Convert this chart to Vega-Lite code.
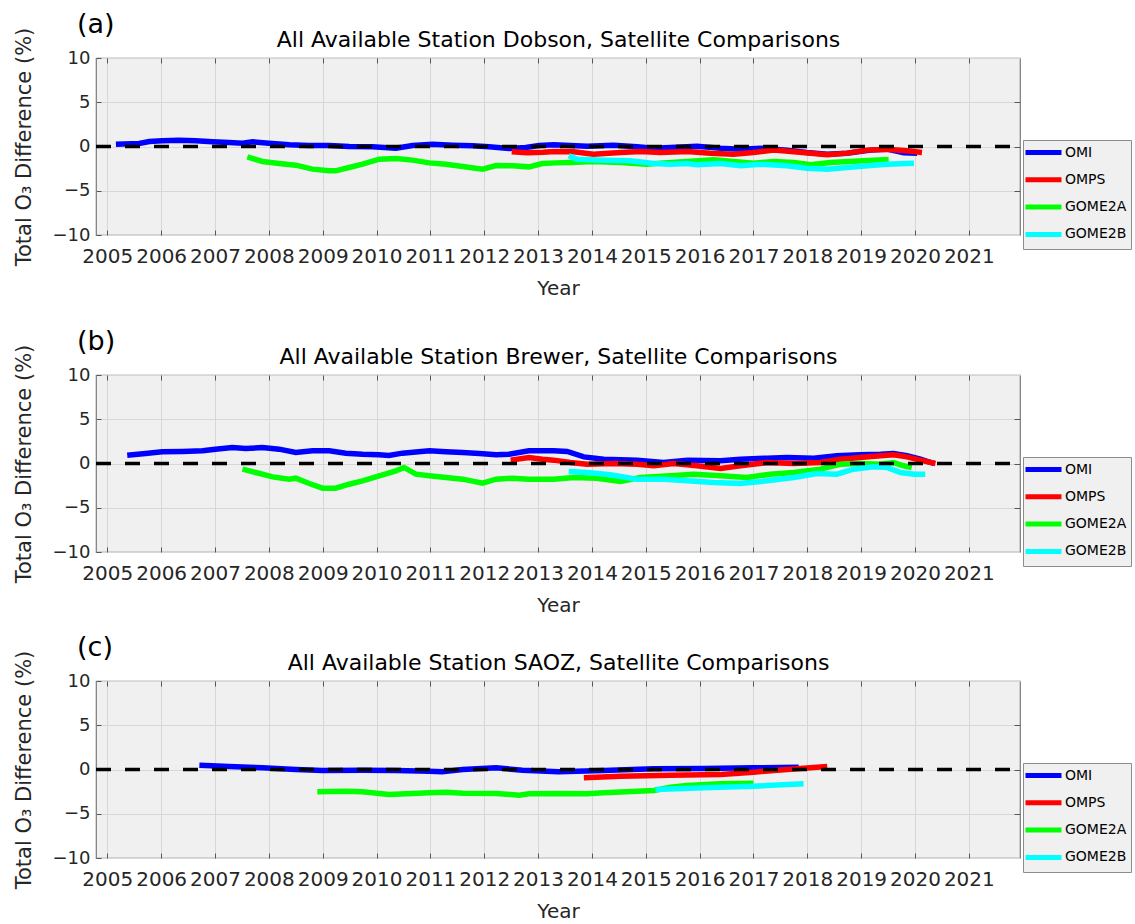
{
  "$schema": "https://vega.github.io/schema/vega-lite/v6.json",
  "background": "white",
  "padding": {"left": 12, "top": 10, "right": 0, "bottom": 0},
  "config": {
    "font": "DejaVu Sans",
    "view": {"stroke": "#7a7a7a", "strokeWidth": 1.2, "fill": "#f0f0f0"},
    "axis": {"domain": false, "labelFont": "DejaVu Sans", "titleFont": "DejaVu Sans", "titleFontWeight": "normal", "labelColor": "#262626", "titleColor": "#262626", "tickColor": "#555555", "gridColor": "#d7d7d7", "gridOpacity": 1, "tickWidth": 1},
    "title": {"font": "DejaVu Sans", "fontWeight": "normal", "color": "#000000"},
    "legend": {"orient": "none", "legendX": 927, "legendY": 82, "title": null, "symbolType": "M-3,0H3", "symbolSize": 144, "symbolStrokeWidth": 5, "symbolOffset": 8, "labelOffset": 13, "labelFontSize": 14, "labelFont": "DejaVu Sans", "labelColor": "#000000", "padding": 4, "rowPadding": 6.3, "fillColor": "#f0f0f0", "strokeColor": "#8c8c8c", "cornerRadius": 0}
  },
  "datasets": {
    "dobson": [
      {"sat": "OMI", "year": 2005.16, "diff": 0.26}, {"sat": "OMI", "year": 2005.59, "diff": 0.34}, {"sat": "OMI", "year": 2005.78, "diff": 0.56}, {"sat": "OMI", "year": 2006.02, "diff": 0.64}, {"sat": "OMI", "year": 2006.33, "diff": 0.72}, {"sat": "OMI", "year": 2006.64, "diff": 0.64}, {"sat": "OMI", "year": 2006.95, "diff": 0.53}, {"sat": "OMI", "year": 2007.26, "diff": 0.45}, {"sat": "OMI", "year": 2007.51, "diff": 0.38}, {"sat": "OMI", "year": 2007.70, "diff": 0.53}, {"sat": "OMI", "year": 2008.00, "diff": 0.38}, {"sat": "OMI", "year": 2008.38, "diff": 0.19}, {"sat": "OMI", "year": 2008.75, "diff": 0.11}, {"sat": "OMI", "year": 2009.12, "diff": 0.11}, {"sat": "OMI", "year": 2009.49, "diff": 0.0}, {"sat": "OMI", "year": 2009.92, "diff": -0.04}, {"sat": "OMI", "year": 2010.36, "diff": -0.19}, {"sat": "OMI", "year": 2010.67, "diff": 0.11}, {"sat": "OMI", "year": 2011.04, "diff": 0.26}, {"sat": "OMI", "year": 2011.41, "diff": 0.15}, {"sat": "OMI", "year": 2011.78, "diff": 0.08}, {"sat": "OMI", "year": 2012.09, "diff": -0.04}, {"sat": "OMI", "year": 2012.46, "diff": -0.23}, {"sat": "OMI", "year": 2012.77, "diff": -0.11}, {"sat": "OMI", "year": 2013.02, "diff": 0.11}, {"sat": "OMI", "year": 2013.29, "diff": 0.19}, {"sat": "OMI", "year": 2013.91, "diff": 0.04}, {"sat": "OMI", "year": 2014.40, "diff": 0.15}, {"sat": "OMI", "year": 2014.84, "diff": -0.04}, {"sat": "OMI", "year": 2015.15, "diff": -0.19}, {"sat": "OMI", "year": 2015.46, "diff": -0.11}, {"sat": "OMI", "year": 2015.95, "diff": 0.04}, {"sat": "OMI", "year": 2016.39, "diff": -0.19}, {"sat": "OMI", "year": 2016.76, "diff": -0.30}, {"sat": "OMI", "year": 2017.13, "diff": -0.19}, {"sat": "OMI", "year": 2017.62, "diff": -0.41}, {"sat": "OMI", "year": 2017.99, "diff": -0.68}, {"sat": "OMI", "year": 2018.37, "diff": -0.87}, {"sat": "OMI", "year": 2018.74, "diff": -0.75}, {"sat": "OMI", "year": 2019.17, "diff": -0.41}, {"sat": "OMI", "year": 2019.48, "diff": -0.30}, {"sat": "OMI", "year": 2019.79, "diff": -0.72}, {"sat": "OMI", "year": 2020.04, "diff": -0.75},
      {"sat": "OMPS", "year": 2012.51, "diff": -0.6}, {"sat": "OMPS", "year": 2012.8, "diff": -0.7}, {"sat": "OMPS", "year": 2013.1, "diff": -0.65}, {"sat": "OMPS", "year": 2013.29, "diff": -0.56}, {"sat": "OMPS", "year": 2013.66, "diff": -0.6}, {"sat": "OMPS", "year": 2014.03, "diff": -0.87}, {"sat": "OMPS", "year": 2014.53, "diff": -0.68}, {"sat": "OMPS", "year": 2014.90, "diff": -0.56}, {"sat": "OMPS", "year": 2015.27, "diff": -0.68}, {"sat": "OMPS", "year": 2015.77, "diff": -0.56}, {"sat": "OMPS", "year": 2016.20, "diff": -0.75}, {"sat": "OMPS", "year": 2016.63, "diff": -0.87}, {"sat": "OMPS", "year": 2017.00, "diff": -0.68}, {"sat": "OMPS", "year": 2017.38, "diff": -0.41}, {"sat": "OMPS", "year": 2017.75, "diff": -0.6}, {"sat": "OMPS", "year": 2018.12, "diff": -0.79}, {"sat": "OMPS", "year": 2018.37, "diff": -0.94}, {"sat": "OMPS", "year": 2018.74, "diff": -0.75}, {"sat": "OMPS", "year": 2019.11, "diff": -0.41}, {"sat": "OMPS", "year": 2019.48, "diff": -0.30}, {"sat": "OMPS", "year": 2019.85, "diff": -0.49}, {"sat": "OMPS", "year": 2020.13, "diff": -0.68},
      {"sat": "GOME2A", "year": 2007.60, "diff": -1.17}, {"sat": "GOME2A", "year": 2007.88, "diff": -1.69}, {"sat": "GOME2A", "year": 2008.19, "diff": -1.92}, {"sat": "GOME2A", "year": 2008.50, "diff": -2.11}, {"sat": "GOME2A", "year": 2008.81, "diff": -2.56}, {"sat": "GOME2A", "year": 2009.12, "diff": -2.75}, {"sat": "GOME2A", "year": 2009.24, "diff": -2.75}, {"sat": "GOME2A", "year": 2009.49, "diff": -2.37}, {"sat": "GOME2A", "year": 2009.74, "diff": -2.0}, {"sat": "GOME2A", "year": 2010.05, "diff": -1.43}, {"sat": "GOME2A", "year": 2010.36, "diff": -1.36}, {"sat": "GOME2A", "year": 2010.67, "diff": -1.54}, {"sat": "GOME2A", "year": 2010.98, "diff": -1.85}, {"sat": "GOME2A", "year": 2011.29, "diff": -2.0}, {"sat": "GOME2A", "year": 2011.60, "diff": -2.26}, {"sat": "GOME2A", "year": 2011.97, "diff": -2.56}, {"sat": "GOME2A", "year": 2012.22, "diff": -2.15}, {"sat": "GOME2A", "year": 2012.53, "diff": -2.18}, {"sat": "GOME2A", "year": 2012.83, "diff": -2.30}, {"sat": "GOME2A", "year": 2013.08, "diff": -1.92}, {"sat": "GOME2A", "year": 2013.33, "diff": -1.85}, {"sat": "GOME2A", "year": 2013.60, "diff": -1.81}, {"sat": "GOME2A", "year": 2014.03, "diff": -1.69}, {"sat": "GOME2A", "year": 2014.53, "diff": -1.81}, {"sat": "GOME2A", "year": 2015.02, "diff": -2.0}, {"sat": "GOME2A", "year": 2015.33, "diff": -1.85}, {"sat": "GOME2A", "year": 2015.77, "diff": -1.69}, {"sat": "GOME2A", "year": 2016.26, "diff": -1.51}, {"sat": "GOME2A", "year": 2016.63, "diff": -1.69}, {"sat": "GOME2A", "year": 2017.00, "diff": -1.88}, {"sat": "GOME2A", "year": 2017.38, "diff": -1.69}, {"sat": "GOME2A", "year": 2017.75, "diff": -1.81}, {"sat": "GOME2A", "year": 2018.06, "diff": -2.07}, {"sat": "GOME2A", "year": 2018.43, "diff": -1.81}, {"sat": "GOME2A", "year": 2018.86, "diff": -1.66}, {"sat": "GOME2A", "year": 2019.23, "diff": -1.54}, {"sat": "GOME2A", "year": 2019.51, "diff": -1.47},
      {"sat": "GOME2B", "year": 2013.57, "diff": -1.05}, {"sat": "GOME2B", "year": 2013.72, "diff": -1.43}, {"sat": "GOME2B", "year": 2014.22, "diff": -1.54}, {"sat": "GOME2B", "year": 2014.71, "diff": -1.62}, {"sat": "GOME2B", "year": 2015.15, "diff": -1.92}, {"sat": "GOME2B", "year": 2015.46, "diff": -2.0}, {"sat": "GOME2B", "year": 2015.77, "diff": -1.92}, {"sat": "GOME2B", "year": 2015.95, "diff": -2.07}, {"sat": "GOME2B", "year": 2016.39, "diff": -1.92}, {"sat": "GOME2B", "year": 2016.76, "diff": -2.18}, {"sat": "GOME2B", "year": 2017.13, "diff": -2.0}, {"sat": "GOME2B", "year": 2017.62, "diff": -2.18}, {"sat": "GOME2B", "year": 2017.99, "diff": -2.45}, {"sat": "GOME2B", "year": 2018.37, "diff": -2.56}, {"sat": "GOME2B", "year": 2018.74, "diff": -2.37}, {"sat": "GOME2B", "year": 2019.11, "diff": -2.18}, {"sat": "GOME2B", "year": 2019.48, "diff": -2.0}, {"sat": "GOME2B", "year": 2019.98, "diff": -1.88}
    ],
    "brewer": [
      {"sat": "OMI", "year": 2005.37, "diff": 0.94}, {"sat": "OMI", "year": 2005.71, "diff": 1.13}, {"sat": "OMI", "year": 2006.02, "diff": 1.32}, {"sat": "OMI", "year": 2006.40, "diff": 1.36}, {"sat": "OMI", "year": 2006.77, "diff": 1.43}, {"sat": "OMI", "year": 2007.01, "diff": 1.62}, {"sat": "OMI", "year": 2007.32, "diff": 1.81}, {"sat": "OMI", "year": 2007.57, "diff": 1.69}, {"sat": "OMI", "year": 2007.88, "diff": 1.81}, {"sat": "OMI", "year": 2008.19, "diff": 1.62}, {"sat": "OMI", "year": 2008.50, "diff": 1.24}, {"sat": "OMI", "year": 2008.81, "diff": 1.43}, {"sat": "OMI", "year": 2009.12, "diff": 1.43}, {"sat": "OMI", "year": 2009.43, "diff": 1.17}, {"sat": "OMI", "year": 2009.74, "diff": 1.05}, {"sat": "OMI", "year": 2010.05, "diff": 0.98}, {"sat": "OMI", "year": 2010.23, "diff": 0.90}, {"sat": "OMI", "year": 2010.48, "diff": 1.17}, {"sat": "OMI", "year": 2010.98, "diff": 1.43}, {"sat": "OMI", "year": 2011.29, "diff": 1.32}, {"sat": "OMI", "year": 2011.60, "diff": 1.24}, {"sat": "OMI", "year": 2011.91, "diff": 1.13}, {"sat": "OMI", "year": 2012.22, "diff": 0.98}, {"sat": "OMI", "year": 2012.46, "diff": 1.05}, {"sat": "OMI", "year": 2012.83, "diff": 1.43}, {"sat": "OMI", "year": 2013.29, "diff": 1.43}, {"sat": "OMI", "year": 2013.54, "diff": 1.36}, {"sat": "OMI", "year": 2013.85, "diff": 0.75}, {"sat": "OMI", "year": 2014.22, "diff": 0.49}, {"sat": "OMI", "year": 2014.84, "diff": 0.38}, {"sat": "OMI", "year": 2015.33, "diff": 0.11}, {"sat": "OMI", "year": 2015.77, "diff": 0.38}, {"sat": "OMI", "year": 2016.39, "diff": 0.30}, {"sat": "OMI", "year": 2016.76, "diff": 0.49}, {"sat": "OMI", "year": 2017.25, "diff": 0.60}, {"sat": "OMI", "year": 2017.62, "diff": 0.68}, {"sat": "OMI", "year": 2018.12, "diff": 0.60}, {"sat": "OMI", "year": 2018.55, "diff": 0.87}, {"sat": "OMI", "year": 2018.98, "diff": 0.98}, {"sat": "OMI", "year": 2019.36, "diff": 1.05}, {"sat": "OMI", "year": 2019.60, "diff": 1.13}, {"sat": "OMI", "year": 2019.85, "diff": 0.87}, {"sat": "OMI", "year": 2020.10, "diff": 0.49}, {"sat": "OMI", "year": 2020.35, "diff": 0.0},
      {"sat": "OMPS", "year": 2012.49, "diff": 0.38}, {"sat": "OMPS", "year": 2012.83, "diff": 0.68}, {"sat": "OMPS", "year": 2013.08, "diff": 0.49}, {"sat": "OMPS", "year": 2013.29, "diff": 0.38}, {"sat": "OMPS", "year": 2013.60, "diff": 0.11}, {"sat": "OMPS", "year": 2013.91, "diff": -0.08}, {"sat": "OMPS", "year": 2014.40, "diff": 0.0}, {"sat": "OMPS", "year": 2014.84, "diff": -0.08}, {"sat": "OMPS", "year": 2015.15, "diff": -0.26}, {"sat": "OMPS", "year": 2015.52, "diff": 0.0}, {"sat": "OMPS", "year": 2015.95, "diff": -0.26}, {"sat": "OMPS", "year": 2016.39, "diff": -0.56}, {"sat": "OMPS", "year": 2016.76, "diff": -0.26}, {"sat": "OMPS", "year": 2017.25, "diff": 0.11}, {"sat": "OMPS", "year": 2017.75, "diff": 0.0}, {"sat": "OMPS", "year": 2018.24, "diff": 0.11}, {"sat": "OMPS", "year": 2018.61, "diff": 0.49}, {"sat": "OMPS", "year": 2018.98, "diff": 0.68}, {"sat": "OMPS", "year": 2019.36, "diff": 0.87}, {"sat": "OMPS", "year": 2019.60, "diff": 0.98}, {"sat": "OMPS", "year": 2019.85, "diff": 0.75}, {"sat": "OMPS", "year": 2020.10, "diff": 0.38}, {"sat": "OMPS", "year": 2020.38, "diff": 0.0},
      {"sat": "GOME2A", "year": 2007.51, "diff": -0.64}, {"sat": "GOME2A", "year": 2007.76, "diff": -1.02}, {"sat": "GOME2A", "year": 2008.07, "diff": -1.51}, {"sat": "GOME2A", "year": 2008.38, "diff": -1.77}, {"sat": "GOME2A", "year": 2008.50, "diff": -1.66}, {"sat": "GOME2A", "year": 2008.75, "diff": -2.26}, {"sat": "GOME2A", "year": 2009.0, "diff": -2.79}, {"sat": "GOME2A", "year": 2009.24, "diff": -2.79}, {"sat": "GOME2A", "year": 2009.49, "diff": -2.34}, {"sat": "GOME2A", "year": 2009.74, "diff": -1.96}, {"sat": "GOME2A", "year": 2010.05, "diff": -1.39}, {"sat": "GOME2A", "year": 2010.36, "diff": -0.83}, {"sat": "GOME2A", "year": 2010.51, "diff": -0.45}, {"sat": "GOME2A", "year": 2010.73, "diff": -1.21}, {"sat": "GOME2A", "year": 2010.98, "diff": -1.39}, {"sat": "GOME2A", "year": 2011.29, "diff": -1.58}, {"sat": "GOME2A", "year": 2011.60, "diff": -1.77}, {"sat": "GOME2A", "year": 2011.97, "diff": -2.22}, {"sat": "GOME2A", "year": 2012.22, "diff": -1.77}, {"sat": "GOME2A", "year": 2012.53, "diff": -1.66}, {"sat": "GOME2A", "year": 2012.83, "diff": -1.77}, {"sat": "GOME2A", "year": 2013.29, "diff": -1.77}, {"sat": "GOME2A", "year": 2013.66, "diff": -1.58}, {"sat": "GOME2A", "year": 2014.09, "diff": -1.66}, {"sat": "GOME2A", "year": 2014.53, "diff": -2.03}, {"sat": "GOME2A", "year": 2014.90, "diff": -1.58}, {"sat": "GOME2A", "year": 2015.46, "diff": -1.39}, {"sat": "GOME2A", "year": 2015.89, "diff": -1.21}, {"sat": "GOME2A", "year": 2016.39, "diff": -1.39}, {"sat": "GOME2A", "year": 2016.88, "diff": -1.58}, {"sat": "GOME2A", "year": 2017.31, "diff": -1.21}, {"sat": "GOME2A", "year": 2017.75, "diff": -1.02}, {"sat": "GOME2A", "year": 2018.24, "diff": -0.64}, {"sat": "GOME2A", "year": 2018.61, "diff": -0.08}, {"sat": "GOME2A", "year": 2018.98, "diff": 0.0}, {"sat": "GOME2A", "year": 2019.36, "diff": -0.08}, {"sat": "GOME2A", "year": 2019.60, "diff": 0.11}, {"sat": "GOME2A", "year": 2019.79, "diff": -0.26}, {"sat": "GOME2A", "year": 2019.94, "diff": -0.45},
      {"sat": "GOME2B", "year": 2013.57, "diff": -0.90}, {"sat": "GOME2B", "year": 2013.91, "diff": -1.02}, {"sat": "GOME2B", "year": 2014.34, "diff": -1.28}, {"sat": "GOME2B", "year": 2014.84, "diff": -1.77}, {"sat": "GOME2B", "year": 2015.33, "diff": -1.77}, {"sat": "GOME2B", "year": 2015.77, "diff": -1.96}, {"sat": "GOME2B", "year": 2016.26, "diff": -2.15}, {"sat": "GOME2B", "year": 2016.76, "diff": -2.26}, {"sat": "GOME2B", "year": 2017.25, "diff": -1.96}, {"sat": "GOME2B", "year": 2017.75, "diff": -1.58}, {"sat": "GOME2B", "year": 2018.18, "diff": -1.13}, {"sat": "GOME2B", "year": 2018.55, "diff": -1.21}, {"sat": "GOME2B", "year": 2018.86, "diff": -0.64}, {"sat": "GOME2B", "year": 2019.23, "diff": -0.38}, {"sat": "GOME2B", "year": 2019.48, "diff": -0.45}, {"sat": "GOME2B", "year": 2019.73, "diff": -1.02}, {"sat": "GOME2B", "year": 2019.98, "diff": -1.21}, {"sat": "GOME2B", "year": 2020.19, "diff": -1.21}
    ],
    "saoz": [
      {"sat": "OMI", "year": 2006.71, "diff": 0.49}, {"sat": "OMI", "year": 2007.26, "diff": 0.34}, {"sat": "OMI", "year": 2007.88, "diff": 0.19}, {"sat": "OMI", "year": 2008.50, "diff": 0.0}, {"sat": "OMI", "year": 2009.0, "diff": -0.11}, {"sat": "OMI", "year": 2009.74, "diff": -0.08}, {"sat": "OMI", "year": 2010.36, "diff": -0.11}, {"sat": "OMI", "year": 2010.98, "diff": -0.19}, {"sat": "OMI", "year": 2011.22, "diff": -0.26}, {"sat": "OMI", "year": 2011.60, "diff": 0.0}, {"sat": "OMI", "year": 2012.22, "diff": 0.19}, {"sat": "OMI", "year": 2012.71, "diff": -0.08}, {"sat": "OMI", "year": 2013.38, "diff": -0.26}, {"sat": "OMI", "year": 2014.22, "diff": -0.11}, {"sat": "OMI", "year": 2015.15, "diff": 0.08}, {"sat": "OMI", "year": 2016.08, "diff": 0.11}, {"sat": "OMI", "year": 2017.0, "diff": 0.19}, {"sat": "OMI", "year": 2017.84, "diff": 0.26},
      {"sat": "OMPS", "year": 2013.85, "diff": -0.94}, {"sat": "OMPS", "year": 2014.53, "diff": -0.75}, {"sat": "OMPS", "year": 2015.46, "diff": -0.64}, {"sat": "OMPS", "year": 2016.39, "diff": -0.56}, {"sat": "OMPS", "year": 2017.0, "diff": -0.30}, {"sat": "OMPS", "year": 2017.62, "diff": 0.0}, {"sat": "OMPS", "year": 2018.37, "diff": 0.34},
      {"sat": "GOME2A", "year": 2008.90, "diff": -2.52}, {"sat": "GOME2A", "year": 2009.43, "diff": -2.45}, {"sat": "GOME2A", "year": 2009.74, "diff": -2.52}, {"sat": "GOME2A", "year": 2010.23, "diff": -2.82}, {"sat": "GOME2A", "year": 2010.67, "diff": -2.71}, {"sat": "GOME2A", "year": 2010.98, "diff": -2.64}, {"sat": "GOME2A", "year": 2011.29, "diff": -2.56}, {"sat": "GOME2A", "year": 2011.60, "diff": -2.67}, {"sat": "GOME2A", "year": 2012.22, "diff": -2.71}, {"sat": "GOME2A", "year": 2012.65, "diff": -2.9}, {"sat": "GOME2A", "year": 2012.83, "diff": -2.75}, {"sat": "GOME2A", "year": 2013.38, "diff": -2.71}, {"sat": "GOME2A", "year": 2013.91, "diff": -2.75}, {"sat": "GOME2A", "year": 2014.22, "diff": -2.64}, {"sat": "GOME2A", "year": 2015.15, "diff": -2.37}, {"sat": "GOME2A", "year": 2015.46, "diff": -2.0}, {"sat": "GOME2A", "year": 2015.77, "diff": -1.81}, {"sat": "GOME2A", "year": 2016.39, "diff": -1.62}, {"sat": "GOME2A", "year": 2017.0, "diff": -1.54},
      {"sat": "GOME2B", "year": 2015.18, "diff": -2.26}, {"sat": "GOME2B", "year": 2016.08, "diff": -2.07}, {"sat": "GOME2B", "year": 2017.0, "diff": -1.88}, {"sat": "GOME2B", "year": 2017.93, "diff": -1.62}
    ]
  },
  "spacing": 28,
  "resolve": {"legend": {"color": "independent"}},
  "vconcat": [
    {
      "width": 924, "height": 177,
      "title": {"text": "(a)", "anchor": "start", "frame": "group", "dx": -19, "fontSize": 27, "offset": -12},
      "data": {"name": "dobson"},
      "layer": [
        {"mark": {"type": "line", "strokeWidth": 5.5, "clip": true},
         "encoding": {
           "x": {"field": "year", "type": "quantitative", "scale": {"domain": [2004.79, 2021.95], "nice": false, "zero": false},
             "axis": {"orient": "bottom", "values": [2005,2006,2007,2008,2009,2010,2011,2012,2013,2014,2015,2016,2017,2018,2019,2020,2021], "format": "d", "labelFontSize": 20, "labelPadding": 16, "tickSize": -5, "grid": true, "title": "Year", "titleFontSize": 20, "titlePadding": 12, "labelOverlap": false, "labelFlush": false}},
           "y": {"field": "diff", "type": "quantitative", "scale": {"domain": [-10, 10], "nice": false, "zero": false},
             "axis": {"orient": "left", "values": [-10,-5,0,5,10], "labelFontSize": 18, "labelPadding": 11, "tickSize": -5, "grid": true, "title": "Total O₃ Difference (%)", "titleFontSize": 21, "titlePadding": 18}},
           "color": {"field": "sat", "type": "nominal", "scale": {"domain": ["OMI","OMPS","GOME2A","GOME2B"], "range": ["#0000ff","#ff0000","#00ff00","#00ffff"]}}
         }},
        {"data": {"values": [{}]},
         "mark": {"type": "rule", "color": "black", "strokeWidth": 3.5, "strokeDash": [15, 14]},
         "encoding": {
           "x": {"datum": 2004.79, "type": "quantitative", "axis": {"orient": "top", "values": [2005,2006,2007,2008,2009,2010,2011,2012,2013,2014,2015,2016,2017,2018,2019,2020,2021], "labels": false, "tickSize": -5, "grid": false, "title": "All Available Station Dobson, Satellite Comparisons", "titleFontSize": 22, "titlePadding": 6, "titleColor": "#000000"}},
           "x2": {"datum": 2021.95},
           "y": {"datum": 0, "type": "quantitative", "axis": {"orient": "right", "values": [-5,0,5], "labels": false, "tickSize": -6, "grid": false, "title": null}}
         }}
      ],
      "resolve": {"axis": {"x": "independent", "y": "independent"}}
    },
    {
      "spacing": 17,
      "resolve": {"legend": {"color": "independent"}},
      "vconcat": [
        {
          "width": 924, "height": 177,
          "title": {"text": "(b)", "anchor": "start", "frame": "group", "dx": -19, "fontSize": 27, "offset": -12},
          "data": {"name": "brewer"},
          "layer": [
            {"mark": {"type": "line", "strokeWidth": 5.5, "clip": true},
             "encoding": {
               "x": {"field": "year", "type": "quantitative", "scale": {"domain": [2004.79, 2021.95], "nice": false, "zero": false},
                 "axis": {"orient": "bottom", "values": [2005,2006,2007,2008,2009,2010,2011,2012,2013,2014,2015,2016,2017,2018,2019,2020,2021], "format": "d", "labelFontSize": 20, "labelPadding": 16, "tickSize": -5, "grid": true, "title": "Year", "titleFontSize": 20, "titlePadding": 12, "labelOverlap": false, "labelFlush": false}},
               "y": {"field": "diff", "type": "quantitative", "scale": {"domain": [-10, 10], "nice": false, "zero": false},
                 "axis": {"orient": "left", "values": [-10,-5,0,5,10], "labelFontSize": 18, "labelPadding": 11, "tickSize": -5, "grid": true, "title": "Total O₃ Difference (%)", "titleFontSize": 21, "titlePadding": 18}},
               "color": {"field": "sat", "type": "nominal", "scale": {"domain": ["OMI","OMPS","GOME2A","GOME2B"], "range": ["#0000ff","#ff0000","#00ff00","#00ffff"]}}
             }},
            {"data": {"values": [{}]},
             "mark": {"type": "rule", "color": "black", "strokeWidth": 3.5, "strokeDash": [15, 14]},
             "encoding": {
               "x": {"datum": 2004.79, "type": "quantitative", "axis": {"orient": "top", "values": [2005,2006,2007,2008,2009,2010,2011,2012,2013,2014,2015,2016,2017,2018,2019,2020,2021], "labels": false, "tickSize": -5, "grid": false, "title": "All Available Station Brewer, Satellite Comparisons", "titleFontSize": 22, "titlePadding": 6, "titleColor": "#000000"}},
               "x2": {"datum": 2021.95},
               "y": {"datum": 0, "type": "quantitative", "axis": {"orient": "right", "values": [-5,0,5], "labels": false, "tickSize": -6, "grid": false, "title": null}}
             }}
          ],
          "resolve": {"axis": {"x": "independent", "y": "independent"}}
        },
        {
          "width": 924, "height": 177,
          "title": {"text": "(c)", "anchor": "start", "frame": "group", "dx": -19, "fontSize": 27, "offset": -12},
          "data": {"name": "saoz"},
          "layer": [
            {"mark": {"type": "line", "strokeWidth": 5.5, "clip": true},
             "encoding": {
               "x": {"field": "year", "type": "quantitative", "scale": {"domain": [2004.79, 2021.95], "nice": false, "zero": false},
                 "axis": {"orient": "bottom", "values": [2005,2006,2007,2008,2009,2010,2011,2012,2013,2014,2015,2016,2017,2018,2019,2020,2021], "format": "d", "labelFontSize": 20, "labelPadding": 16, "tickSize": -5, "grid": true, "title": "Year", "titleFontSize": 20, "titlePadding": 12, "labelOverlap": false, "labelFlush": false}},
               "y": {"field": "diff", "type": "quantitative", "scale": {"domain": [-10, 10], "nice": false, "zero": false},
                 "axis": {"orient": "left", "values": [-10,-5,0,5,10], "labelFontSize": 18, "labelPadding": 11, "tickSize": -5, "grid": true, "title": "Total O₃ Difference (%)", "titleFontSize": 21, "titlePadding": 18}},
               "color": {"field": "sat", "type": "nominal", "scale": {"domain": ["OMI","OMPS","GOME2A","GOME2B"], "range": ["#0000ff","#ff0000","#00ff00","#00ffff"]}}
             }},
            {"data": {"values": [{}]},
             "mark": {"type": "rule", "color": "black", "strokeWidth": 3.5, "strokeDash": [15, 14]},
             "encoding": {
               "x": {"datum": 2004.79, "type": "quantitative", "axis": {"orient": "top", "values": [2005,2006,2007,2008,2009,2010,2011,2012,2013,2014,2015,2016,2017,2018,2019,2020,2021], "labels": false, "tickSize": -5, "grid": false, "title": "All Available Station SAOZ, Satellite Comparisons", "titleFontSize": 22, "titlePadding": 6, "titleColor": "#000000"}},
               "x2": {"datum": 2021.95},
               "y": {"datum": 0, "type": "quantitative", "axis": {"orient": "right", "values": [-5,0,5], "labels": false, "tickSize": -6, "grid": false, "title": null}}
             }}
          ],
          "resolve": {"axis": {"x": "independent", "y": "independent"}}
        }
      ]
    }
  ]
}
